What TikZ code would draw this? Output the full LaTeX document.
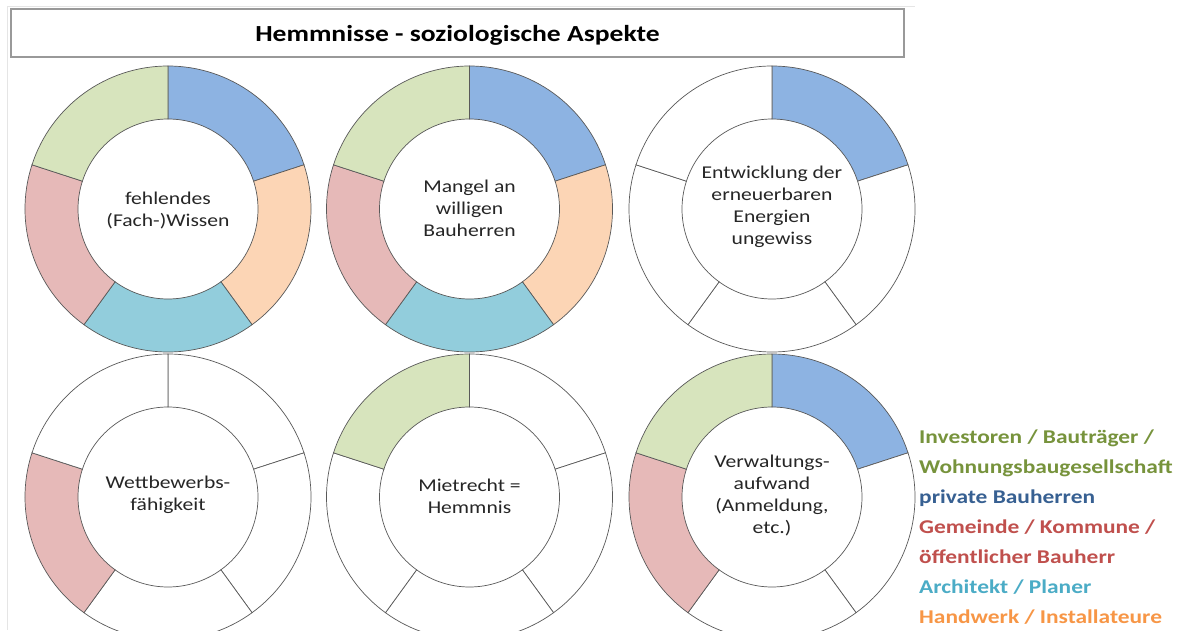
\documentclass[tikz,border=0pt]{standalone}
\usepackage{fontspec}
\setmainfont{Carlito}[FakeStretch=1.2]
\usetikzlibrary{calc}
\definecolor{fblue}{HTML}{8DB3E2}
\definecolor{forange}{HTML}{FCD5B5}
\definecolor{fcyan}{HTML}{92CDDC}
\definecolor{fpink}{HTML}{E6B9B8}
\definecolor{fgreen}{HTML}{D7E4BD}
\definecolor{lgreen}{HTML}{77933C}
\definecolor{lblue}{HTML}{376092}
\definecolor{lred}{HTML}{C0504D}
\definecolor{lcyan}{HTML}{4BACC6}
\definecolor{lorange}{HTML}{F79646}
\tikzset{
  segline/.style={draw=black!65, line width=0.7pt},
  ctext/.style={align=center, font=\fontsize{18}{22}\selectfont, text=black!85, inner sep=0pt},
  legtext/.style={anchor=base west, inner sep=0pt, font=\fontsize{19.5}{30}\selectfont\bfseries},
}
% \donutseg{cx}{cy}{a1}{a2}{fill}
\newcommand{\donutseg}[5]{%
  \path[segline, fill=#5] ($(#1,#2)+(#3:143)$) arc[start angle=#3, end angle=#4, radius=143]
    -- ($(#1,#2)+(#4:90)$) arc[start angle=#4, end angle=#3, radius=90] -- cycle;}
\newcommand{\donut}[7]{%
  \donutseg{#1}{#2}{90}{18}{#3}%
  \donutseg{#1}{#2}{18}{-54}{#4}%
  \donutseg{#1}{#2}{-54}{-126}{#5}%
  \donutseg{#1}{#2}{-126}{-198}{#6}%
  \donutseg{#1}{#2}{-198}{-270}{#7}}
\begin{document}
\begin{tikzpicture}[x=1pt,y=1pt]
\useasboundingbox (0,0) rectangle (1182,630);
\clip (0,0) rectangle (1182,630);
\fill[white] (0,0) rectangle (1182,630);
% light outer frame
\draw[black!10, line width=0.8pt] (7,0) -- (7,624) -- (915,624);
% title box
\node[draw=black!40, line width=1.6pt, minimum width=893pt, minimum height=48pt, inner sep=0pt] (titlebox) at (457.5,597) {};
\node[anchor=base, inner sep=0pt, font=\fontsize{23}{28}\selectfont\bfseries] (title) at (457.5,588) {Hemmnisse - soziologische Aspekte};
% donuts (top row y=421, bottom row y=133)
\donut{168}{421}{fblue}{forange}{fcyan}{fpink}{fgreen}
\donut{469.5}{421}{fblue}{forange}{fcyan}{fpink}{fgreen}
\donut{772}{421}{fblue}{white}{white}{white}{white}
\donut{168}{133}{white}{white}{white}{fpink}{white}
\donut{469.5}{133}{white}{white}{white}{white}{fgreen}
\donut{772}{133}{fblue}{white}{white}{fpink}{fgreen}
% center texts
\node[ctext] (t1) at (168,420) {fehlendes\\(Fach-)Wissen};
\node[ctext] (t2) at (469.5,422) {Mangel an\\willigen\\Bauherren};
\node[ctext] (t3) at (772,423) {Entwicklung der\\erneuerbaren\\Energien\\ungewiss};
\node[ctext] (t4) at (168,135) {Wettbewerbs-\\fähigkeit};
\node[ctext] (t5) at (469.5,134) {Mietrecht =\\Hemmnis};
\node[ctext] (t6) at (772,135) {Verwaltungs-\\aufwand\\(Anmeldung,\\etc.)};
% legend
\node[legtext, text=lgreen] (l1) at (919,187) {Investoren / Bauträger /};
\node[legtext, text=lgreen] (l2) at (919,157) {Wohnungsbaugesellschaft};
\node[legtext, text=lblue] (l3) at (919,127) {private Bauherren};
\node[legtext, text=lred] (l4) at (919,97) {Gemeinde / Kommune /};
\node[legtext, text=lred] (l5) at (919,67) {öffentlicher Bauherr};
\node[legtext, text=lcyan] (l6) at (919,37) {Architekt / Planer};
\node[legtext, text=lorange] (l7) at (919,7) {Handwerk / Installateure};
\end{tikzpicture}
\end{document}
